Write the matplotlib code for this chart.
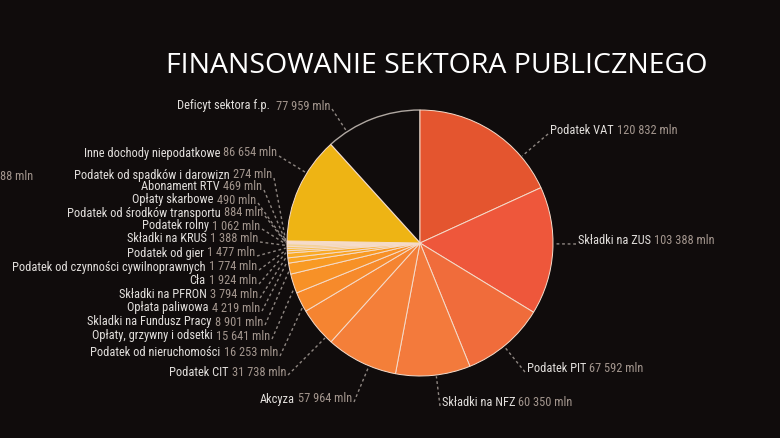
import numpy as np
import matplotlib
matplotlib.use('Agg')
import matplotlib.pyplot as plt
from matplotlib import font_manager as fm

# slices, clockwise from 12 o'clock
names = ['Podatek VAT', 'Składki na ZUS', 'Podatek PIT', 'Składki na NFZ', 'Akcyza',
         'Podatek CIT', 'Podatek od nieruchomości', 'Opłaty, grzywny i odsetki',
         'Skladki na Fundusz Pracy', 'Opłata paliwowa', 'Składki na PFRON', 'Cła',
         'Podatek od czynności cywilnoprawnych', 'Podatek od gier', 'Składki na KRUS',
         'Podatek rolny', 'Podatek od środków transportu', 'Opłaty skarbowe',
         'Abonament RTV', 'Podatek od spadków i darowizn', 'Inne dochody niepodatkowe',
         'Deficyt sektora f.p.']
values = [120832, 103388, 67592, 60350, 57964, 31738, 16253, 15641, 8901, 4219, 3794,
          1924, 1774, 1477, 1388, 1062, 884, 490, 469, 274, 86654, 77959]

BG = '#100c0c'
colors = ['#e4552f', '#ee573b', '#f06c3b', '#f37a3c', '#f47f39', '#f58431', '#f68a2b',
          '#f79127', '#f89a24', '#f9a423', '#f9ab27', '#f7b433', '#f6bb3e', '#f5c24a',
          '#f4c956', '#f3cf62', '#f2d46e', '#f1d87a', '#efdc88', '#dcd8d0', '#eeb414', BG]

# label layout in pixels from top-left: side, anchor x, centre y
label_pos = [('R', 550, 131), ('R', 578, 241), ('R', 527, 369), ('R', 442, 403),
             ('L', 352, 399), ('L', 286, 372), ('L', 278, 353), ('L', 270, 336),
             ('L', 263, 322), ('L', 260, 308), ('L', 258, 295), ('L', 257, 281),
             ('L', 257, 267), ('L', 255, 253), ('L', 258, 239), ('L', 260, 226),
             ('L', 263, 213), ('L', 256, 200), ('L', 262, 187), ('L', 272, 175),
             ('L', 277, 153), ('L', 330, 106)]

W, H = 780, 438
cx, cy, R = 420, H - 243, 133
NAME_C = '#e2dfdc'
VAL_C = '#a2958d'
LEAD_C = '#8f8782'

# pick an Arial-Narrow-like face if one is installed
have = {f.name for f in fm.fontManager.ttflist}
narrow = [n for n in ['Liberation Sans Narrow', 'Arimo Narrow', 'Roboto Condensed',
                      'Archivo Narrow', 'PT Sans Narrow', 'Encode Sans Condensed',
                      'IBM Plex Sans Condensed', 'Open Sans Condensed'] if n in have]
FONT = narrow[:1] + ['Liberation Sans', 'DejaVu Sans']
FS = 10

fig = plt.figure(figsize=(W / 100, H / 100), dpi=100, facecolor=BG)
ax = fig.add_axes([0, 0, 1, 1])
ax.set_facecolor(BG)

wedges, _ = ax.pie(values, colors=colors, startangle=90, counterclock=False,
                   center=(cx, cy), radius=R,
                   wedgeprops=dict(edgecolor='#f6dccb', linewidth=0.7))
wedges[-1].set_edgecolor('#b0a8a2')
wedges[-1].set_linewidth(1.0)
wedges[-1].set_zorder(0)

ax.set_xlim(0, W)
ax.set_ylim(0, H)
ax.set_aspect('auto')
ax.axis('off')

ax.text(437, H - 66, 'FINANSOWANIE SEKTORA PUBLICZNEGO', color='white',
        fontsize=20.5, family=['Open Sans', 'DejaVu Sans'], ha='center', va='center')

fig.canvas.draw()
rend = fig.canvas.get_renderer()

# scale the label font so that the widest label matches the source (245 px)
probe = ax.text(0, 0, 'Podatek od czynności cywilnoprawnych 1 774 mln', fontsize=FS,
                family=FONT)
FS = FS * 245 / probe.get_window_extent(rend).width
probe.remove()


def fmt(v):
    return f'{v:,}'.replace(',', ' ') + ' mln'


for w, name, val, (side, px, py) in zip(wedges, names, values, label_pos):
    y = H - py
    gap = 6 if name.startswith('Deficyt') else 3
    if side == 'L':
        tv = ax.text(px, y, fmt(val), color=VAL_C, fontsize=FS, family=FONT,
                     ha='right', va='center')
        wv = tv.get_window_extent(rend).width
        ax.text(px - wv - gap, y, name, color=NAME_C, fontsize=FS, family=FONT,
                ha='right', va='center')
        sx = px + 2
    else:
        tn = ax.text(px, y, name, color=NAME_C, fontsize=FS, family=FONT,
                     ha='left', va='center')
        wn = tn.get_window_extent(rend).width
        ax.text(px + wn + gap, y, fmt(val), color=VAL_C, fontsize=FS, family=FONT,
                ha='left', va='center')
        sx = px - 2
    sy = y - 3
    # leader end: pie edge, towards the label but kept inside the wedge
    t1, t2 = w.theta1, w.theta2
    a = np.degrees(np.arctan2(sy - cy, sx - cx))
    a = t1 + (a - t1) % 360
    if a > t2:
        a = t2 if (a - t2) < (t1 + 360 - a) else t1
    m = min(0.25 * (t2 - t1), 2)
    a = min(max(a, t1 + m), t2 - m)
    ex = cx + R * 1.01 * np.cos(np.radians(a))
    ey = cy + R * 1.01 * np.sin(np.radians(a))
    ax.plot([sx, ex], [sy, ey], color=LEAD_C, lw=1, ls=(0, (2, 2)))

# cut-off fragment at the left edge of the source
ax.text(0, H - 176, '88 mln', color=VAL_C, fontsize=FS, family=FONT,
        ha='left', va='center')

fig.savefig('out.png', dpi=100, facecolor=BG)
